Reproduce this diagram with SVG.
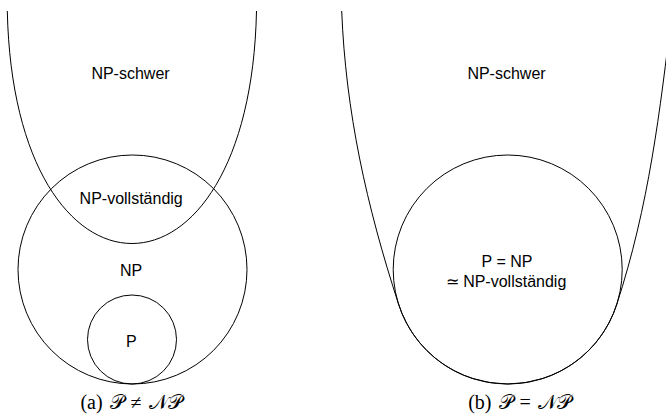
<svg xmlns="http://www.w3.org/2000/svg" width="666" height="419" viewBox="0 0 666 419">
<style>
.s{fill:none;stroke:#000;stroke-width:1}
.t{font-family:"Liberation Sans",Arial,sans-serif;font-size:16px;fill:#000;text-anchor:middle}
.c{font-family:"Liberation Serif","DejaVu Serif","Noto Sans",serif;font-size:20px;word-spacing:2px;fill:#000;text-anchor:middle}
</style>
<rect width="666" height="419" fill="#fff"/>
<g id="left-panel">
<g id="np-hard-a"><path class="s" d="M7.3,11 C14,321 250,321 256.5,11"/><text class="t" x="130.5" y="79">NP-schwer</text></g>
<g id="np-a"><circle class="s" cx="132.5" cy="269.5" r="114.5"/><text class="t" x="131" y="276">NP</text></g>
<g id="npc-a"><text class="t" x="131.2" y="204">NP-vollständig</text></g>
<g id="p-a"><circle class="s" cx="132" cy="339.5" r="44.5"/><text class="t" x="131.3" y="346.5">P</text></g>
<text class="c" x="131" y="409">(a) 𝒫 ≠ 𝒩𝒫</text>
</g>
<g id="right-panel">
<g id="np-hard-b"><path class="s" d="M341.7,11 C345.7,111 366.2,205 398.84,305 A114.5,114.5 0 0 0 616.56,305 C649.2,205 660,111 672,11"/><text class="t" x="506.5" y="79">NP-schwer</text></g>
<g id="p-np-b"><circle class="s" cx="507.7" cy="269.5" r="114.5"/><text class="t" x="507" y="266.5">P = NP</text><text class="t" x="506" y="286.5">≃ NP-vollständig</text></g>
<text class="c" x="519.5" y="409">(b) 𝒫 = 𝒩𝒫</text>
</g>
<g id="connectors"/>
</svg>
